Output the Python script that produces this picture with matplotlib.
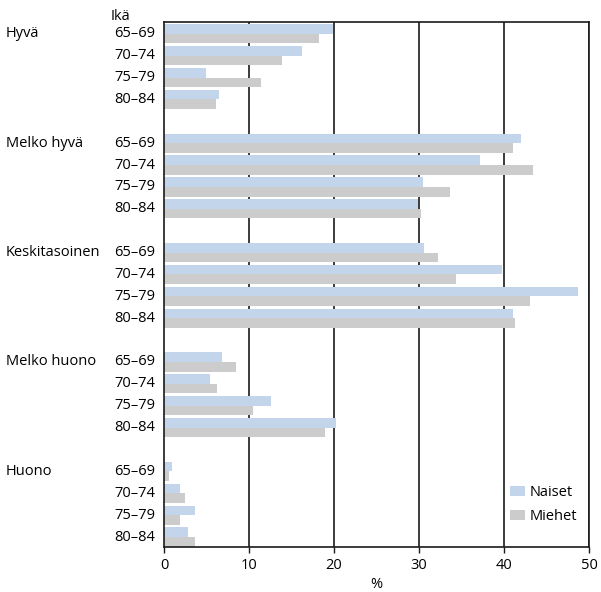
import matplotlib
matplotlib.use("Agg")
import matplotlib.pyplot as plt
from matplotlib.patches import Patch

plt.rcParams['font.family'] = ['Open Sans', 'DejaVu Sans']

categories = ["Hyvä", "Melko hyvä", "Keskitasoinen", "Melko huono", "Huono"]
ages = ["65–69", "70–74", "75–79", "80–84"]
naiset = [
    [19.9, 16.2, 4.9, 6.5],
    [42.0, 37.1, 30.4, 29.9],
    [30.6, 39.7, 48.7, 41.0],
    [6.8, 5.4, 12.6, 20.2],
    [0.9, 1.9, 3.6, 2.8],
]
miehet = [
    [18.2, 13.9, 11.4, 6.1],
    [41.0, 43.4, 33.6, 30.2],
    [32.2, 34.3, 43.0, 41.3],
    [8.5, 6.2, 10.5, 18.9],
    [0.6, 2.5, 1.9, 3.6],
]
xticks = [0, 10, 20, 30, 40, 50]
xlabel = "%"
age_header = "Ikä"
series_names = ["Naiset", "Miehet"]

blue = "#C3D5EB"
grey = "#CCCCCC"
fs = 10.5

W, H = 601, 592
fig = plt.figure(figsize=(W / 100, H / 100), dpi=100)
left, right, top, bottom = 164, 589.3, 22, 547.3
ax = fig.add_axes([left / W, 1 - bottom / H, (right - left) / W, (bottom - top) / H])

bh = 0.44
ytrans = ax.get_yaxis_transform()
for c, cat in enumerate(categories):
    for a, age in enumerate(ages):
        s = c * 5 + a
        ax.barh(s - bh / 2, naiset[c][a], height=bh, color=blue, zorder=2)
        ax.barh(s + bh / 2, miehet[c][a], height=bh, color=grey, zorder=2)
        ax.text(-0.021, s, age, transform=ytrans, ha="right", va="center",
                fontsize=fs, clip_on=False)
    ax.text(-0.3715, c * 5, cat, transform=ytrans, ha="left", va="center",
            fontsize=fs, clip_on=False)
ax.text(-0.1246, -0.78, age_header, transform=ytrans, ha="left", va="center",
        fontsize=fs, clip_on=False)

ax.set_xlim(0, 50)
ax.set_ylim(23.47, -0.54)
ax.set_xticks(xticks)
ax.set_xticklabels([str(t) for t in xticks], fontsize=fs)
ax.set_yticks([])
for t in xticks[1:]:
    ax.axvline(t, color="#1a1a1a", lw=1.2, zorder=1)
for sp in ax.spines.values():
    sp.set_color("#1a1a1a")
    sp.set_linewidth(1.2)
ax.tick_params(axis="x", length=4.5, width=1.0, pad=3, color="#1a1a1a")
ax.set_xlabel(xlabel, fontsize=fs, labelpad=3)

handles = [Patch(facecolor=blue, edgecolor="none"), Patch(facecolor=grey, edgecolor="none")]
ax.legend(handles, series_names, loc="upper left", bbox_to_anchor=(510 / W, 1 - 485 / H),
          bbox_transform=fig.transFigure, frameon=False, borderpad=0, borderaxespad=0,
          handlelength=1.05, handleheight=0.7, handletextpad=0.3, labelspacing=0.6,
          fontsize=fs)

fig.savefig("out.png", dpi=100)
